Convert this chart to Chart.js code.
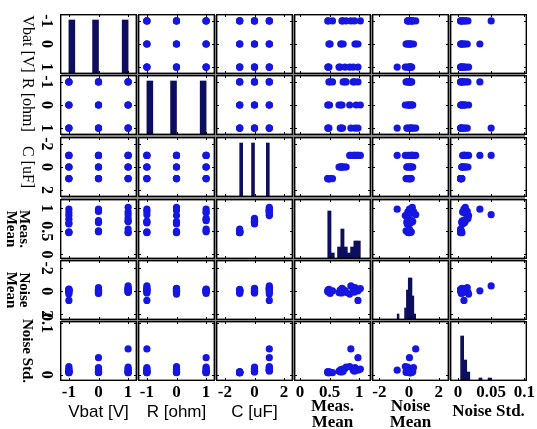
<!DOCTYPE html>
<html>
<head>
<meta charset="utf-8">
<script src="https://cdn.jsdelivr.net/npm/chart.js@4.4.0/dist/chart.umd.min.js"></script>
<style>
html, body { margin: 0; padding: 0; background: #fff; }
#matriz { position: relative; width: 537px; height: 429px; overflow: hidden; background: #fff; }
#huecos { position: absolute; left: 61px; top: 15px; width: 464px; height: 365px; background: #858585; }
#matriz canvas { position: absolute; }
</style>
</head>
<body>
<div id="matriz"><div id="huecos"></div></div>
<script>
/* ----- Datos (27 ensayos) ----- */
const vbat = [-1, 0, 1, -1, 0, 1, -1, 0, 1,  -1, 0, 1, -1, 0, 1, -1, 0, 1,  -1, 0, 1, -1, 0, 1, -1, 0, 1];
const resist = [-1, -1, -1, 0, 0, 0, 1, 1, 1,  -1, -1, -1, 0, 0, 0, 1, 1, 1,  -1, -1, -1, 0, 0, 0, 1, 1, 1];
const capac = [-1, -1, -1, -1, -1, -1, -1, -1, -1,  0, 0, 0, 0, 0, 0, 0, 0, 0,  1, 1, 1, 1, 1, 1, 1, 1, 1];
const measMean = [0.47, 0.49, 0.48, 0.48, 0.50, 0.47, 0.49, 0.51, 0.55,
                  0.68, 0.70, 0.72, 0.66, 0.69, 0.71, 0.76, 0.73, 0.78,
                  0.98, 0.93, 0.86, 0.84, 0.95, 1.02, 0.90, 0.98, 0.92];
const noiseMean = [0.05, -0.1, 0.12, 0.0, 0.08, -0.05, 0.15, -0.2, 0.02,
                   0.1, -0.15, 0.2, -0.12, 0.0, 0.25, 0.05, 0.1, -0.1,
                   -0.8, 0.3, 0.45, -0.25, 0.15, 0.22, 0.18, 0.03, -0.08];
const noiseStd = [0.004, 0.005, 0.004, 0.005, 0.004, 0.006, 0.004, 0.005, 0.004,
                  0.006, 0.006, 0.011, 0.007, 0.010, 0.006, 0.012, 0.007, 0.015,
                  0.009, 0.014, 0.050, 0.016, 0.010, 0.011, 0.009, 0.033, 0.007];

/* ----- Histogramas (diagonal) ----- */
const vbatBins = [-0.9, -0.7, -0.5, -0.3, -0.1, 0.1, 0.3, 0.5, 0.7, 0.9];
const vbatCounts = [9, 0, 0, 0, 9, 0, 0, 0, 0, 9];
const resistBins = [-0.9, -0.7, -0.5, -0.3, -0.1, 0.1, 0.3, 0.5, 0.7, 0.9];
const resistCounts = [9, 0, 0, 0, 9, 0, 0, 0, 0, 9];
const capacBins = [-0.9, -0.7, -0.5, -0.3, -0.1, 0.1, 0.3, 0.5, 0.7, 0.9];
const capacCounts = [9, 0, 0, 0, 9, 0, 0, 0, 0, 9];
const measBins = [0.4975, 0.5525, 0.6075, 0.6625, 0.7175, 0.7725, 0.8275, 0.8825, 0.9375, 0.9925];
const measCounts = [8, 1, 0, 2, 5, 2, 1, 2, 3, 3];
const noiseMeanBins = [-0.7375, -0.6125, -0.4875, -0.3625, -0.2375, -0.1125, 0.0125, 0.1375, 0.2625, 0.3875];
const noiseMeanCounts = [1, 0, 0, 0, 2, 5, 7, 7, 4, 1];
const noiseStdBins = [0.0063, 0.0109, 0.0155, 0.0201, 0.0247, 0.0293, 0.0339, 0.0385, 0.0431, 0.0477];
const noiseStdCounts = [15, 7, 3, 0, 0, 0, 1, 0, 0, 1];

/* ----- Etiquetas ----- */
const titulos = [["Vbat [V]"], ["R [ohm]"], ["C [uF]"], ["Meas.", "Mean"], ["Noise", "Mean"], ["Noise Std."]];
const ticksAbajo = [[-1, 0, 1], [-1, 0, 1], [-2, 0, 2], [0, 0.5, 1], [-2, 0, 2], [0, 0.05, 0.1]];
const ticksIzq = [[-1, 0, 1], [-1, 0, 1], [-2, 0, 2], [0, 0.5, 1], [-2, 0, 2], [0, 0.1]];

const variables = [vbat, resist, capac, measMean, noiseMean, noiseStd];
const histBins = [vbatBins, resistBins, capacBins, measBins, noiseMeanBins, noiseStdBins];
const histCounts = [vbatCounts, resistCounts, capacCounts, measCounts, noiseMeanCounts, noiseStdCounts];

/* ----- Escalas y geometría ----- */
const rangos = [[-1.3, 1.3], [-1.3, 1.3], [-2.6, 2.6], [-0.1, 1.2], [-2.5, 2.7], [-0.012, 0.104]];
const histMax = [10, 10, 10, 10, 10, 20];
const espejo = [true, true, true, false, true, false];
const celdaX = [60, 138, 216, 294, 372, 450];
const celdaY = [14, 75, 137, 199, 260, 321];
const anchoCelda = 77, altoCelda = 60;

const AZUL = "#1616e2";
const BARRA = "#0e0e5e";
const SERIF = '"Liberation Serif", "DejaVu Serif", serif';
const SANS = '"Liberation Sans", Arial, sans-serif';

// posición vertical de un valor de la fila (también en la celda diagonal)
function pixelFila(chart, fila, v) {
    const a = chart.chartArea;
    const [lo, hi] = rangos[fila];
    return a.bottom - (v - lo) / (hi - lo) * (a.bottom - a.top);
}

/* ----- Marco, marcas y etiquetas ----- */
const marco = {
    id: "marco",
    beforeDraw(chart) {
        const a = chart.chartArea, ctx = chart.ctx;
        ctx.save();
        ctx.fillStyle = "#fff";
        ctx.fillRect(a.left, a.top, a.right - a.left, a.bottom - a.top);
        ctx.restore();
    },
    afterDraw(chart) {
        const a = chart.chartArea, ctx = chart.ctx;
        const o = chart.options.plugins.marco;
        const xs = chart.scales.x;
        ctx.save();
        ctx.strokeStyle = "#000";
        ctx.lineWidth = 1.4;
        ctx.strokeRect(a.left + 0.7, a.top + 0.7, a.right - a.left - 1.4, a.bottom - a.top - 1.4);

        ctx.lineWidth = 1;
        ctx.beginPath();
        ticksAbajo[o.col].forEach(v => {
            const px = Math.round(xs.getPixelForValue(v)) + 0.5;
            ctx.moveTo(px, a.top); ctx.lineTo(px, a.top + 3);
            ctx.moveTo(px, a.bottom); ctx.lineTo(px, a.bottom - 3);
        });
        if (o.fila !== o.col) {
            ticksIzq[o.fila].forEach(v => {
                const py = Math.round(chart.scales.y.getPixelForValue(v)) + 0.5;
                ctx.moveTo(a.left, py); ctx.lineTo(a.left + 3, py);
                ctx.moveTo(a.right, py); ctx.lineTo(a.right - 3, py);
            });
        }
        ctx.stroke();

        ctx.fillStyle = "#000";
        ctx.textAlign = "center";
        ctx.textBaseline = "middle";

        // eje inferior
        if (o.fila === 5) {
            ctx.font = "bold 17px " + SERIF;
            ticksAbajo[o.col].forEach(v => {
                ctx.fillText(String(v), xs.getPixelForValue(v), a.bottom + 12);
            });
            const t = titulos[o.col];
            const cx = (a.left + a.right) / 2;
            ctx.font = o.col < 3 ? "17px " + SANS : "bold 17px " + SERIF;
            if (t.length === 1) {
                ctx.fillText(t[0], cx, a.bottom + 31);
            } else {
                ctx.fillText(t[0], cx, a.bottom + 26);
                ctx.fillText(t[1], cx, a.bottom + 42);
            }
        }

        // eje izquierdo (texto girado)
        if (o.col === 0) {
            ctx.font = "bold 16px " + SERIF;
            ticksIzq[o.fila].forEach(v => {
                const py = pixelFila(chart, o.fila, espejo[o.fila] ? -v : v);
                ctx.save();
                ctx.translate(46, py);
                ctx.rotate(Math.PI / 2);
                ctx.fillText(String(v), 0, 0);
                ctx.restore();
            });
            const t = titulos[o.fila];
            const cy = (a.top + a.bottom) / 2;
            ctx.font = o.fila < 3 ? "16px " + SERIF : "bold 15px " + SERIF;
            const xsTit = t.length === 1 ? [27] : [24, 11];
            t.forEach((linea, k) => {
                ctx.save();
                ctx.translate(xsTit[k], cy);
                ctx.rotate(Math.PI / 2);
                ctx.fillText(linea, 0, 0);
                ctx.restore();
            });
        }
        ctx.restore();
    }
};

/* ----- Crear las 36 celdas ----- */
const matriz = document.getElementById("matriz");

for (let fila = 0; fila < 6; fila++) {
    for (let col = 0; col < 6; col++) {
        const pL = col === 0 ? celdaX[0] : 0;
        const pR = col === 5 ? 12 : 0;
        const pT = col === 0 ? 12 : 0;
        const pB = fila === 5 ? 48 : (col === 0 ? 12 : 0);
        const w = anchoCelda + pL + pR, h = altoCelda + pT + pB;
        const cv = document.createElement("canvas");
        cv.width = w; cv.height = h;
        cv.style.width = w + "px"; cv.style.height = h + "px";
        cv.style.left = (celdaX[col] - pL) + "px";
        cv.style.top = (celdaY[fila] - pT) + "px";
        matriz.appendChild(cv);

        const diag = fila === col;
        const datos = diag
            ? histBins[col].map((x, k) => ({ x: x, y: histCounts[col][k] }))
            : variables[col].map((x, k) => ({ x: x, y: variables[fila][k] }));

        new Chart(cv, {
            type: diag ? "bar" : "scatter",
            data: {
                datasets: [diag ? {
                    data: datos,
                    backgroundColor: BARRA,
                    borderWidth: 0,
                    barPercentage: 1,
                    categoryPercentage: 1
                } : {
                    data: datos,
                    backgroundColor: AZUL,
                    borderWidth: 0,
                    pointRadius: 3.6
                }]
            },
            options: {
                responsive: false,
                animation: false,
                events: [],
                devicePixelRatio: 1,
                layout: { autoPadding: false, padding: { left: pL, right: pR, top: pT, bottom: pB } },
                scales: {
                    x: { type: "linear", min: rangos[col][0], max: rangos[col][1], offset: false, display: false },
                    y: diag
                        ? { type: "linear", min: 0, max: histMax[col], display: false }
                        : { type: "linear", min: rangos[fila][0], max: rangos[fila][1], display: false }
                },
                plugins: {
                    legend: { display: false },
                    tooltip: { enabled: false },
                    marco: { fila: fila, col: col }
                }
            },
            plugins: [marco]
        });
    }
}
</script>
</body>
</html>
